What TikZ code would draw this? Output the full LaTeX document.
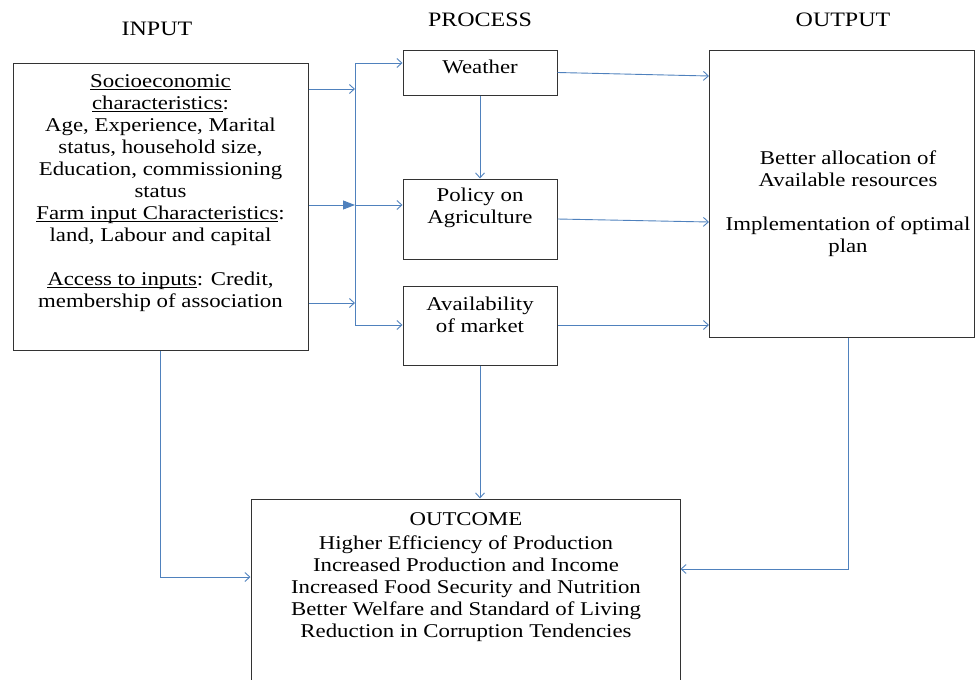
\documentclass[tikz,border=0pt]{standalone}
\usepackage{fontspec}
\setmainfont{Liberation Serif}[FakeStretch=1.17]
\usetikzlibrary{arrows.meta}
\definecolor{linkblue}{RGB}{79,129,189}

%underline set close to the baseline
\newsavebox\ulbox
\newcommand{\undl}[1]{\sbox\ulbox{#1}\rlap{\rule[-2.5pt]{\wd\ulbox}{0.8pt}}\usebox\ulbox}

\begin{document}
\begin{tikzpicture}[x=1pt,y=-1pt,
     box/.style={draw=black!80,line width=1pt,rectangle,inner sep=0pt},
     txt/.style={align=center,inner sep=0pt,font=\fontsize{19.5}{22}\selectfont},
     head/.style={inner sep=0pt,font=\fontsize{20.5}{24}\selectfont},
     link/.style={draw=linkblue,line width=0.9pt,-{Straight Barb[length=5pt,width=9pt]}}
     ]
\clip (0,0) rectangle (975,680);

%x position of the vertical feed line
\def \jx{355}

%Column headings
\node[head] (hin) at (157,29) {INPUT};
\node[head] (hpro) at (480,20) {PROCESS};
\node[head] (hout) at (843,20) {OUTPUT};

%The boxes
\node[box,minimum width=295pt,minimum height=287pt] (input) at (160.5,206.5) {};
\node[box,minimum width=154pt,minimum height=45pt] (weather) at (480,72.5) {};
\node[box,minimum width=154pt,minimum height=80pt] (policy) at (480,219) {};
\node[box,minimum width=154pt,minimum height=79pt] (market) at (480,325.5) {};
\node[box,minimum width=265pt,minimum height=287pt] (output) at (841.5,193.5) {};
\node[box,minimum width=429pt,minimum height=201pt] (outcome) at (465.5,599.5) {};

%Texts inside the boxes
\node[txt] (intext) at (160.5,193) {\undl{Socioeconomic}\\
  \undl{characteristics}:\\
  Age, Experience, Marital\\
  status, household size,\\
  Education, commissioning\\
  status\\
  \undl{Farm input Characteristics}:\\
  land, Labour and capital\\[22pt]
  \undl{Access to inputs}: Credit,\\
  membership of association};
\node[txt] (wtext) at (480,67) {Weather};
\node[txt] (ptext) at (480,208) {Policy on\\Agriculture};
\node[txt] (mtext) at (480,315) {Availability\\of market};
\node[txt] (otext) at (848,203.5) {Better allocation of\\
  Available resources\\[22pt]
  Implementation of optimal\\
  plan};
\node[txt] (ctext) at (466,577) {OUTCOME\\[2pt]
  Higher Efficiency of Production\\
  Increased Production and Income\\
  Increased Food Security and Nutrition\\
  Better Welfare and Standard of Living\\
  Reduction in Corruption Tendencies};

%Junction points on the feed line
\coordinate (jtop) at (\jx,63);
\coordinate (ja) at (\jx,89);
\coordinate (jb) at (\jx,205);
\coordinate (jc) at (\jx,303);
\coordinate (jbot) at (\jx,325);

%Input to feed line
\draw[link] (input.east |- ja) -- (ja);
\draw[link,-{Triangle[length=12pt,width=9pt]}] (input.east |- jb) -- (jb);
\draw[link] (input.east |- jc) -- (jc);
\draw[draw=linkblue,line width=0.9pt] (jtop) -- (jbot);

%Feed line to process
\draw[link] (jtop) -- (weather.west |- jtop);
\draw[link] (jb) -- (policy.west |- jb);
\draw[link] (jbot) -- (market.west |- jbot);
\draw[link] (weather.south) -- (policy.north);

%Process to output
\coordinate (oa) at (709,76);
\coordinate (ob) at (709,222);
\coordinate (oc) at (709,325);
\draw[link] (weather.east) -- (oa);
\draw[link] (policy.east) -- (ob);
\draw[link] (market.east |- oc) -- (oc);

%Into the outcome
\coordinate (inbend) at (160.5,577);
\coordinate (outbend) at (848,569);
\draw[link] (market.south) -- (market.south |- outcome.north);
\draw[link] (input.south) -- (inbend) -- (outcome.west |- inbend);
\draw[link] (output.south -| outbend) -- (outbend) -- (outcome.east |- outbend);
\end{tikzpicture}
\end{document}
